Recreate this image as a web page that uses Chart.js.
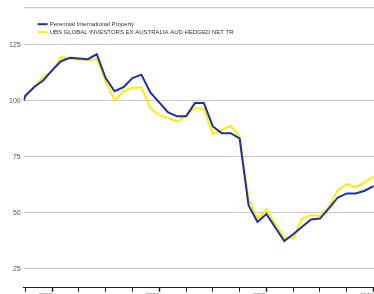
<!DOCTYPE html>
<html>
<head>
<meta charset="utf-8">
<script src="https://cdn.jsdelivr.net/npm/chart.js@4/dist/chart.umd.min.js"></script>
<style>
  html, body { margin: 0; padding: 0; background: #fff; overflow: hidden; }
  #wrap { width: 374px; height: 294px; overflow: hidden; }
</style>
</head>
<body>
<div id="wrap"><canvas id="lineChart" width="374" height="299"></canvas></div>
<script>
// months since the first month-end (first point is the start date, just before it)
const months = [-0.18, 0, 1, 2, 3, 4, 5, 6, 7, 8, 9, 10, 11, 12, 13, 14, 15, 16, 17, 18, 19,
  20, 21, 22, 23, 24, 25, 26, 27, 28, 29, 30, 31, 32, 33, 34, 35, 36, 37, 38, 39];

const perennial = [100, 102.2, 106.1, 109.0, 113.5, 117.6, 119.1, 118.8, 118.5, 120.7, 110.1,
  104.2, 106.0, 110.1, 111.6, 103.7, 99.2, 94.8, 93.0, 93.0, 98.9,
  98.9, 88.5, 85.5, 85.5, 83.2, 53.4, 45.9, 49.4, 43.4, 37.4,
  40.4, 43.7, 47.0, 47.4, 51.9, 56.8, 58.6, 58.6, 59.8, 61.9];

const ubsIndex = [100, 101.5, 106.0, 110.5, 113.1, 119.5, 118.6, 118.4, 118.1, 118.6, 108.7,
  100.1, 104.2, 105.7, 106.0, 96.7, 93.5, 92.2, 90.5, 93.3, 96.7,
  96.3, 85.1, 87.0, 88.8, 84.1, 56.4, 47.4, 51.4, 45.0, 38.9,
  38.5, 47.4, 48.9, 48.5, 52.6, 60.1, 62.8, 61.3, 63.5, 66.1];

const seriesNames = ["Perennial International Property", "UBS GLOBAL INVESTORS EX AUSTRALIA AUD HEDGED NET TR"];
const yTicks = [25, 50, 75, 100, 125];
const quarterTicks = [0, 3, 6, 9, 12, 15, 18, 21, 24, 27, 30, 33, 36, 39];
const yearTicks = [3, 15, 27, 39];
const yearLabels = ["2007", "2008", "2009", "2010"];

const FONT = "Arial, 'Liberation Sans', sans-serif";

function toPoints(values) {
  return values.map((v, i) => ({ x: months[i], y: v }));
}

// top frame line + legend drawn inside the plot area
const insideLegend = {
  id: "insideLegend",
  afterDraw(chart) {
    const { ctx, chartArea } = chart;
    ctx.save();
    ctx.strokeStyle = "#bdbdbd";
    ctx.lineWidth = 1;
    ctx.beginPath();
    ctx.moveTo(chartArea.left, chartArea.top + 0.5);
    ctx.lineTo(chartArea.right, chartArea.top + 0.5);
    ctx.stroke();

    ctx.font = "6px " + FONT;
    ctx.textBaseline = "middle";
    chart.data.datasets.forEach((ds, i) => {
      const y = chartArea.top + 17 + i * 8;
      const x = chartArea.left + 14;
      ctx.strokeStyle = ds.borderColor;
      ctx.lineWidth = 2;
      ctx.beginPath();
      ctx.moveTo(x, y);
      ctx.lineTo(x + 10, y);
      ctx.stroke();
      ctx.fillStyle = "#333";
      ctx.fillText(ds.label, x + 12, y + 0.5);
    });
    ctx.restore();
  },
};

new Chart(document.getElementById("lineChart"), {
  type: "line",
  data: {
    datasets: [
      {
        label: seriesNames[0],
        data: toPoints(perennial),
        borderColor: "#1f2fa6",
        borderWidth: 2,
        pointRadius: 0,
        tension: 0,
      },
      {
        label: seriesNames[1],
        data: toPoints(ubsIndex),
        borderColor: "#ffec00",
        borderWidth: 2,
        pointRadius: 0,
        tension: 0,
      },
    ],
  },
  options: {
    responsive: false,
    animation: false,
    layout: { padding: { left: 6, top: 4, right: 0, bottom: 0 } },
    plugins: { legend: { display: false }, tooltip: { enabled: false } },
    scales: {
      x: {
        type: "linear",
        min: -0.18,
        max: 39.05,
        afterBuildTicks: (scale) => {
          scale.ticks = quarterTicks.map((v) => ({ value: v }));
        },
        grid: {
          drawOnChartArea: false,
          tickLength: 4,
          tickColor: "#222",
          tickWidth: (c) => (yearTicks.includes(c.tick && c.tick.value) ? 1.5 : 1),
        },
        border: { color: "#222", width: 1 },
        ticks: {
          autoSkip: false,
          maxRotation: 0,
          align: "end",
          padding: 0,
          color: "#666",
          font: { size: 6, family: FONT },
          callback: (v) => {
            const k = yearTicks.indexOf(v);
            return k >= 0 ? yearLabels[k] : "";
          },
        },
      },
      y: {
        min: 16.5,
        max: 141.7,
        afterBuildTicks: (scale) => {
          scale.ticks = yTicks.map((v) => ({ value: v }));
        },
        grid: { color: "#c6c6c6", lineWidth: 1, drawTicks: false },
        border: { display: false },
        ticks: {
          padding: 3,
          color: "#555",
          font: { size: 7, family: FONT },
        },
      },
    },
  },
  plugins: [insideLegend],
});
</script>
</body>
</html>
